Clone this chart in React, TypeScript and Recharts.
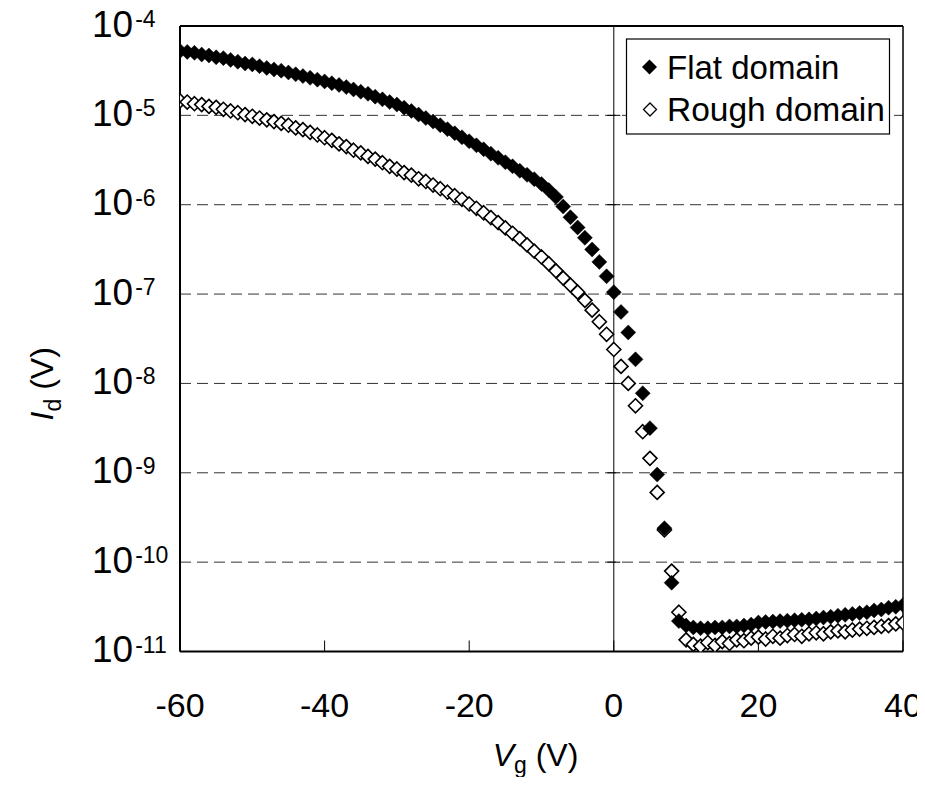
import React from 'react';
import { ScatterChart, Scatter, XAxis, YAxis, CartesianGrid, ReferenceLine } from 'recharts';

const vg = [
  -60, -59, -58, -57, -56, -55, -54, -53, -52, -51,
  -50, -49, -48, -47, -46, -45, -44, -43, -42, -41,
  -40, -39, -38, -37, -36, -35, -34, -33, -32, -31,
  -30, -29, -28, -27, -26, -25, -24, -23, -22, -21,
  -20, -19, -18, -17, -16, -15, -14, -13, -12, -11,
  -10, -9, -8, -7, -6, -5, -4, -3, -2, -1,
  0, 1, 2, 3, 4, 5, 6, 7, 8, 9,
  10, 11, 12, 13, 14, 15, 16, 17, 18, 19,
  20, 21, 22, 23, 24, 25, 26, 27, 28, 29,
  30, 31, 32, 33, 34, 35, 36, 37, 38, 39,
  40,
];

const flatId = [
  5.25e-5, 5.13e-5, 5.01e-5, 4.79e-5, 4.68e-5, 4.47e-5, 4.37e-5, 4.17e-5, 3.98e-5, 3.80e-5,
  3.72e-5, 3.55e-5, 3.39e-5, 3.27e-5, 3.16e-5, 3.02e-5, 2.88e-5, 2.75e-5, 2.63e-5, 2.51e-5,
  2.40e-5, 2.29e-5, 2.19e-5, 2.07e-5, 1.95e-5, 1.84e-5, 1.74e-5, 1.62e-5, 1.51e-5, 1.41e-5,
  1.32e-5, 1.22e-5, 1.12e-5, 1.02e-5, 9.33e-6, 8.51e-6, 7.76e-6, 7.00e-6, 6.31e-6, 5.69e-6,
  5.13e-6, 4.62e-6, 4.17e-6, 3.72e-6, 3.35e-6, 2.99e-6, 2.69e-6, 2.40e-6, 2.16e-6, 1.93e-6,
  1.70e-6, 1.46e-6, 1.22e-6, 9.55e-7, 7.24e-7, 5.56e-7, 4.27e-7, 3.16e-7, 2.29e-7, 1.58e-7,
  1.05e-7, 6.31e-8, 3.72e-8, 1.86e-8, 7.76e-9, 3.16e-9, 9.55e-10, 2.40e-10, 5.89e-11, 2.19e-11,
  1.95e-11, 1.86e-11, 1.82e-11, 1.82e-11, 1.86e-11, 1.86e-11, 1.91e-11, 1.91e-11, 1.95e-11, 2.00e-11,
  2.11e-11, 2.14e-11, 2.16e-11, 2.19e-11, 2.21e-11, 2.24e-11, 2.26e-11, 2.29e-11, 2.34e-11, 2.40e-11,
  2.45e-11, 2.51e-11, 2.57e-11, 2.63e-11, 2.69e-11, 2.75e-11, 2.88e-11, 2.95e-11, 3.09e-11, 3.16e-11,
  3.31e-11,
];

const roughId = [
  1.45e-5, 1.41e-5, 1.35e-5, 1.32e-5, 1.26e-5, 1.23e-5, 1.17e-5, 1.12e-5, 1.07e-5, 1.02e-5,
  9.77e-6, 9.33e-6, 8.91e-6, 8.51e-6, 8.13e-6, 7.76e-6, 7.24e-6, 6.92e-6, 6.46e-6, 6.03e-6,
  5.62e-6, 5.25e-6, 4.79e-6, 4.47e-6, 4.07e-6, 3.80e-6, 3.47e-6, 3.24e-6, 2.95e-6, 2.69e-6,
  2.51e-6, 2.29e-6, 2.14e-6, 1.95e-6, 1.82e-6, 1.66e-6, 1.51e-6, 1.38e-6, 1.26e-6, 1.15e-6,
  1.02e-6, 9.12e-7, 8.13e-7, 7.16e-7, 6.31e-7, 5.50e-7, 4.79e-7, 4.17e-7, 3.55e-7, 3.02e-7,
  2.60e-7, 2.19e-7, 1.82e-7, 1.51e-7, 1.26e-7, 1.05e-7, 8.51e-8, 6.61e-8, 4.90e-8, 3.55e-8,
  2.40e-8, 1.55e-8, 1.00e-8, 5.62e-9, 2.88e-9, 1.45e-9, 6.03e-10, 2.29e-10, 7.94e-11, 2.75e-11,
  1.35e-11, 1.20e-11, 1.15e-11, 1.26e-11, 1.17e-11, 1.29e-11, 1.23e-11, 1.35e-11, 1.32e-11, 1.41e-11,
  1.45e-11, 1.38e-11, 1.48e-11, 1.41e-11, 1.51e-11, 1.55e-11, 1.48e-11, 1.58e-11, 1.62e-11, 1.58e-11,
  1.66e-11, 1.70e-11, 1.66e-11, 1.74e-11, 1.78e-11, 1.82e-11, 1.86e-11, 1.91e-11, 1.95e-11, 2.04e-11,
  2.09e-11,
];

const xTicks = [-60, -40, -20, 0, 20, 40];
const yTicks = [1e-11, 1e-10, 1e-9, 1e-8, 1e-7, 1e-6, 1e-5, 1e-4];
const yTickExps = ['-11', '-10', '-9', '-8', '-7', '-6', '-5', '-4'];
const innerDecades = [1e-10, 1e-9, 1e-8, 1e-7, 1e-6, 1e-5];

const seriesNames = ['Flat domain', 'Rough domain'];

const flatData = vg.map((v, k) => ({ v, id: flatId[k] }));
const roughData = vg.map((v, k) => ({ v, id: roughId[k] }));

const FONT = '"Liberation Sans", Arial, Helvetica, sans-serif';

const W = 917;
const H = 769;

const FilledDiamond = (props: any) => {
  const { cx, cy } = props;
  if (cx == null || cy == null) return null;
  const r = 7.5;
  return (
    <polygon
      points={`${cx},${cy - r} ${cx + r},${cy} ${cx},${cy + r} ${cx - r},${cy}`}
      fill="#000"
      stroke="#000"
      strokeWidth={0.5}
    />
  );
};

const OpenDiamond = (props: any) => {
  const { cx, cy } = props;
  if (cx == null || cy == null) return null;
  const r = 7;
  return (
    <polygon
      points={`${cx},${cy - r} ${cx + r},${cy} ${cx},${cy + r} ${cx - r},${cy}`}
      fill="#fff"
      stroke="#000"
      strokeWidth={1.6}
    />
  );
};

const YTick = (props: any) => {
  const { x, y, payload } = props;
  const idx = yTicks.findIndex((t) => Math.abs(Math.log10(t) - Math.log10(payload.value)) < 1e-6);
  const exp = idx >= 0 ? yTickExps[idx] : '';
  return (
    <text x={x - 88} y={y + 10.5} fontFamily={FONT} fontSize={37} fill="#000">
      10
      <tspan fontSize={23} dx={2} dy={-9.5}>
        {exp}
      </tspan>
    </text>
  );
};

const XTick = (props: any) => {
  const { x, y, payload } = props;
  return (
    <text x={x} y={y + 76} textAnchor="middle" fontFamily={FONT} fontSize={34} fill="#000">
      {payload.value}
    </text>
  );
};

const XTitle = (props: any) => {
  const vb = props.viewBox || {};
  const cx = vb.x + vb.width / 2 - 6;
  const y = vb.y + 114;
  return (
    <text x={cx} y={y} textAnchor="middle" fontFamily={FONT} fontSize={32} fill="#000">
      <tspan fontStyle="italic">V</tspan>
      <tspan fontSize={23} dy={7}>g</tspan>
      <tspan dy={-7}> (V)</tspan>
    </text>
  );
};

const YTitle = (props: any) => {
  const vb = props.viewBox || {};
  const cx = 45;
  const cy = vb.y + vb.height / 2 + 45;
  return (
    <text
      x={cx}
      y={cy}
      textAnchor="middle"
      transform={`rotate(-90 ${cx} ${cy})`}
      fontFamily={FONT}
      fontSize={32}
      fill="#000"
    >
      <tspan fontStyle="italic">I</tspan>
      <tspan fontSize={23} dy={8}>d</tspan>
      <tspan dy={-8}> (V)</tspan>
    </text>
  );
};

const Legend = () => (
  <svg
    width={W}
    height={H}
    style={{ position: 'absolute', left: 0, top: 0, pointerEvents: 'none' }}
  >
    <rect x={618.5} y={31} width={263} height={95} fill="#fff" stroke="#000" strokeWidth={1.2} />
    <polygon points="641.5,51.5 649,59 641.5,66.5 634,59" fill="#000" />
    <text x={659} y={70.5} fontFamily={FONT} fontSize={33} fill="#000">
      {seriesNames[0]}
    </text>
    <polygon points="642,95 648.5,101.5 642,108 635.5,101.5" fill="#fff" stroke="#000" strokeWidth={1.3} />
    <text x={659} y={112.5} fontFamily={FONT} fontSize={33.5} fill="#000">
      {seriesNames[1]}
    </text>
  </svg>
);

export default function App() {
  return (
    <div style={{ position: 'relative', width: W, height: H, background: '#fff' }}>
      <style>{`
        html, body { overflow: hidden !important; }
        .recharts-wrapper, .recharts-surface { overflow: visible !important; }
      `}</style>
      <ScatterChart
        width={W}
        height={H}
        margin={{ top: 18, right: 22, left: 72, bottom: 65.5 }}
      >
        <CartesianGrid
          horizontal={true}
          vertical={false}
          horizontalValues={innerDecades}
          stroke="#333"
          strokeDasharray="11 6"
          strokeWidth={1}
        />
        <XAxis
          type="number"
          dataKey="v"
          domain={[-60, 40]}
          ticks={xTicks}
          allowDataOverflow
          height={60}
          tickSize={-11}
          tickMargin={0}
          tickLine={{ stroke: '#000', strokeWidth: 1 }}
          axisLine={{ stroke: '#000', strokeWidth: 2 }}
          tick={<XTick />}
          label={{ content: <XTitle /> }}
        />
        <YAxis
          type="number"
          dataKey="id"
          scale="log"
          domain={[1e-11, 1e-4]}
          ticks={yTicks}
          allowDataOverflow
          width={100}
          tickSize={0}
          tickMargin={0}
          tickLine={false}
          axisLine={{ stroke: '#000', strokeWidth: 2 }}
          tick={<YTick />}
          label={{ content: <YTitle /> }}
        />
        <ReferenceLine y={1e-4} stroke="#000" strokeWidth={2} />
        <ReferenceLine x={40} stroke="#000" strokeWidth={1.5} />
        <ReferenceLine x={0} stroke="#000" strokeWidth={1} />
        {innerDecades.map((d) => (
          <ReferenceLine
            key={d}
            segment={[
              { x: -0.9, y: d },
              { x: 0.9, y: d },
            ]}
            stroke="#000"
            strokeWidth={1}
          />
        ))}
        <Scatter
          name={seriesNames[1]}
          data={roughData}
          shape={<OpenDiamond />}
          isAnimationActive={false}
        />
        <Scatter
          name={seriesNames[0]}
          data={flatData}
          shape={<FilledDiamond />}
          isAnimationActive={false}
        />
      </ScatterChart>
      <Legend />
    </div>
  );
}
